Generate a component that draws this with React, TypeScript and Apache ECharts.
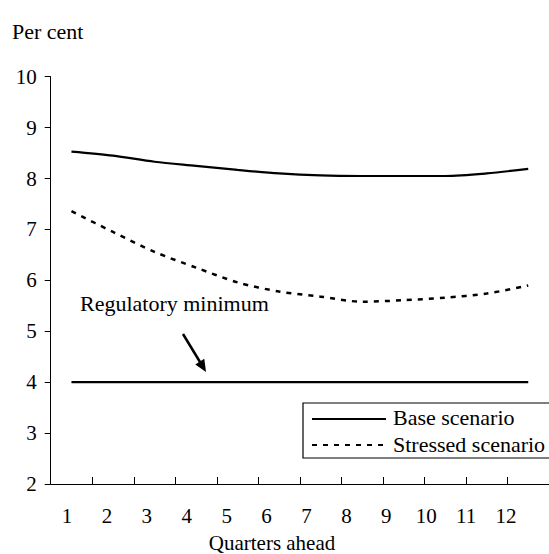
import React, { useEffect, useRef } from "react";
import * as echarts from "echarts";

const categories = ["1", "2", "3", "4", "5", "6", "7", "8", "9", "10", "11", "12"];
const baseScenario = [8.53, 8.45, 8.33, 8.25, 8.17, 8.1, 8.06, 8.05, 8.05, 8.05, 8.1, 8.19];
const stressedScenario = [7.36, 6.95, 6.56, 6.25, 5.96, 5.78, 5.68, 5.58, 5.61, 5.66, 5.74, 5.9];
const regulatoryMinimum = [4, 4, 4, 4, 4, 4, 4, 4, 4, 4, 4, 4];
const yTicks = { min: 2, max: 10, interval: 1 };

const FONT = "'Liberation Serif', serif";

export default function App() {
  const ref = useRef<HTMLDivElement>(null);
  useEffect(() => {
    if (!ref.current) return;
    const chart = echarts.init(ref.current, undefined, { renderer: "svg" });
    const top = 76.7;
    const height = 407.3;
    const txt = (text: string, x: number, y: number, align = "left", size = 22) => ({
      type: "text",
      x,
      y,
      style: { text, font: `${size}px ${FONT}`, fill: "#000", align, verticalAlign: "middle" },
    });
    chart.setOption({
      animation: false,
      backgroundColor: "#ffffff",
      textStyle: { fontFamily: FONT, color: "#000" },
      grid: [
        { left: 50.7, top, width: 501.6, height, containLabel: false },
        { left: 47, top, width: 479, height, containLabel: false },
      ],
      xAxis: [
        {
          type: "category",
          gridIndex: 0,
          data: categories,
          boundaryGap: true,
          axisLine: { show: true, lineStyle: { color: "#000", width: 1 } },
          axisTick: { show: true, inside: true, length: 7, lineStyle: { color: "#000", width: 1 } },
          axisLabel: { show: false },
          splitLine: { show: false },
        },
        {
          type: "category",
          gridIndex: 1,
          data: categories,
          boundaryGap: true,
          axisLine: { show: false },
          axisTick: { show: false },
          axisLabel: { show: true, fontSize: 21, color: "#000", fontFamily: FONT, margin: 21, interval: 0 },
          splitLine: { show: false },
        },
      ],
      yAxis: [
        {
          type: "value",
          gridIndex: 0,
          min: yTicks.min,
          max: yTicks.max,
          interval: yTicks.interval,
          axisLine: { show: true, lineStyle: { color: "#000", width: 1 } },
          axisTick: { show: true, inside: false, length: 6, lineStyle: { color: "#000", width: 1 } },
          axisLabel: { fontSize: 21, color: "#000", fontFamily: FONT, margin: 14 },
          splitLine: { show: false },
        },
        {
          type: "value",
          gridIndex: 1,
          min: yTicks.min,
          max: yTicks.max,
          show: false,
        },
      ],
      series: [
        {
          name: "Base scenario",
          type: "line",
          xAxisIndex: 0,
          yAxisIndex: 0,
          data: baseScenario,
          smooth: 0.3,
          symbol: "none",
          lineStyle: { color: "#000", width: 2.2 },
        },
        {
          name: "Stressed scenario",
          type: "line",
          xAxisIndex: 0,
          yAxisIndex: 0,
          data: stressedScenario,
          smooth: 0.3,
          symbol: "none",
          lineStyle: { color: "#000", width: 2.5, type: [5, 6] },
        },
        {
          name: "Regulatory minimum",
          type: "line",
          xAxisIndex: 0,
          yAxisIndex: 0,
          data: regulatoryMinimum,
          symbol: "none",
          lineStyle: { color: "#000", width: 2.2 },
        },
      ],
      graphic: [
        txt("Per cent", 12, 31),
        txt("Quarters ahead", 272, 543, "center", 21),
        txt("Regulatory minimum", 80, 303),
        {
          type: "line",
          shape: { x1: 183, y1: 334, x2: 200, y2: 362 },
          style: { stroke: "#000", lineWidth: 2.5 },
        },
        {
          type: "polygon",
          shape: { points: [[206, 372], [204.3, 358.8], [195.3, 364.6]] },
          style: { fill: "#000" },
        },
        {
          type: "rect",
          shape: { x: 303, y: 403, width: 260, height: 55 },
          style: { fill: "#fff", stroke: "#000", lineWidth: 1.2 },
        },
        {
          type: "line",
          shape: { x1: 312, y1: 419, x2: 386, y2: 419 },
          style: { stroke: "#000", lineWidth: 2.2 },
        },
        txt("Base scenario", 393, 417),
        {
          type: "line",
          shape: { x1: 312, y1: 445, x2: 386, y2: 445 },
          style: { stroke: "#000", lineWidth: 2, lineDash: [5, 6] },
        },
        txt("Stressed scenario", 393, 444),
      ],
    });
    return () => chart.dispose();
  }, []);
  return (
    <div
      ref={ref}
      style={{ position: "fixed", left: 0, top: 0, width: 549, height: 554, background: "#fff" }}
    />
  );
}
